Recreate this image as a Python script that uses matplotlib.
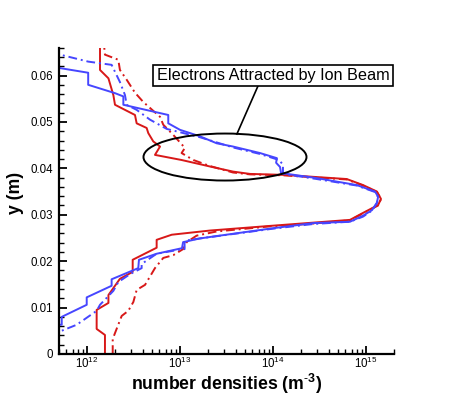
import matplotlib
matplotlib.use("Agg")
import matplotlib.pyplot as plt
import numpy as np
from matplotlib.patches import Ellipse
from matplotlib.ticker import FixedLocator, FuncFormatter, LogLocator, LogFormatterMathtext, NullFormatter

plt.rcParams["font.family"] = ["Liberation Sans", "DejaVu Sans"]
plt.rcParams["mathtext.fontset"] = "custom"
plt.rcParams["mathtext.rm"] = "Liberation Sans"
plt.rcParams["mathtext.bf"] = "Liberation Sans:bold"
plt.rcParams["mathtext.it"] = "Liberation Sans:italic"

# number densities (m^-3) vs y (m)
red_solid_n = [1.56e12, 1.56e12, 1.27e12, 1.27e12, 1.70e12, 1.70e12, 2.26e12, 3.10e12, 3.10e12,
               5.61e12, 5.61e12, 8.15e12, 2.10e13, 9.29e13, 2.69e14, 6.73e14, 9.29e14, 1.35e15,
               1.45e15, 1.31e15, 9.29e14, 6.20e14, 1.28e14, 5.66e13, 3.72e13, 2.10e13, 1.04e13,
               5.38e12, 6.10e12, 5.16e12, 4.56e12, 4.38e12, 3.42e12, 3.28e12, 2.56e12, 2.00e12,
               1.92e12, 1.70e12, 1.38e12, 1.38e12]
red_solid_y = [0.0, 0.0041, 0.0054, 0.0095, 0.0110, 0.0127, 0.0162, 0.0177, 0.0203,
               0.0229, 0.0246, 0.0257, 0.0266, 0.0276, 0.0283, 0.0289, 0.0304, 0.0321,
               0.0334, 0.0350, 0.0364, 0.0377, 0.0386, 0.0388, 0.0393, 0.0404, 0.0418,
               0.0429, 0.0447, 0.0458, 0.0476, 0.0487, 0.0497, 0.0515, 0.0526, 0.0537,
               0.0558, 0.0594, 0.0612, 0.0680]

red_dash_n = [1.89e12, 1.89e12, 2.00e12, 2.36e12, 2.78e12, 3.15e12, 3.42e12, 4.21e12, 5.38e12,
              6.61e12, 8.47e12, 1.08e13, 1.18e13, 1.51e13, 2.48e13, 9.29e13, 2.69e14, 6.73e14,
              9.29e14, 1.35e15, 1.45e15, 1.31e15, 9.29e14, 6.20e14, 1.28e14, 5.66e13, 3.72e13,
              2.10e13, 1.39e13, 1.04e13, 1.13e13, 8.47e12, 6.61e12, 6.10e12, 4.03e12, 3.28e12,
              2.67e12, 2.26e12, 2.17e12, 1.56e12, 1.50e12]
red_dash_y = [0.0, 0.0032, 0.0045, 0.0082, 0.0093, 0.0112, 0.0138, 0.0149, 0.0185,
              0.0207, 0.0213, 0.0226, 0.0241, 0.0255, 0.0264, 0.0275, 0.0281, 0.0288,
              0.0303, 0.0320, 0.0334, 0.0349, 0.0363, 0.0376, 0.0385, 0.0387, 0.0391,
              0.0405, 0.0418, 0.0433, 0.0444, 0.0472, 0.0494, 0.0511, 0.0543, 0.0563,
              0.0591, 0.0612, 0.0634, 0.0645, 0.0680]

blue_solid_n = [4.0e11, 5.35e11, 5.35e11, 9.93e11, 9.93e11, 1.84e12, 1.84e12, 3.56e12, 3.62e12,
                5.61e12, 1.05e13, 1.08e13, 1.64e13, 2.26e13, 1.00e14, 2.69e14, 6.73e14, 9.29e14,
                1.16e15, 1.31e15, 1.35e15, 1.25e15, 7.94e14, 2.95e14, 1.22e14, 1.19e14, 1.08e14,
                1.10e14, 7.24e13, 3.72e13, 2.48e13, 1.64e13, 1.00e13, 7.48e12, 7.48e12, 2.46e12,
                2.46e12, 2.00e12, 1.03e12, 1.03e12, 5.13e11, 4.0e11]
blue_solid_y = [0.0063, 0.0063, 0.0080, 0.0106, 0.0122, 0.0147, 0.0161, 0.0185, 0.0203,
                0.0216, 0.0228, 0.0241, 0.0249, 0.0253, 0.0271, 0.0282, 0.0285, 0.0298,
                0.0310, 0.0326, 0.0339, 0.0350, 0.0364, 0.0379, 0.0390, 0.0403, 0.0412,
                0.0422, 0.0433, 0.0447, 0.0454, 0.0469, 0.0483, 0.0497, 0.0515, 0.0537,
                0.0555, 0.0562, 0.0580, 0.0606, 0.0616, 0.0618]

blue_dash_n = [4.0e11, 5.04e11, 7.75e11, 1.27e12, 1.38e12, 1.92e12, 2.17e12, 2.90e12, 3.87e12,
               3.87e12, 5.61e12, 1.00e13, 1.12e13, 1.12e13, 1.64e13, 1.00e14, 2.69e14, 6.73e14,
               9.29e14, 1.16e15, 1.31e15, 1.35e15, 1.25e15, 7.94e14, 2.95e14, 1.28e14, 1.28e14,
               1.16e14, 7.24e13, 3.72e13, 1.64e13, 7.19e12, 4.75e12, 3.42e12, 2.67e12, 2.56e12,
               2.26e12, 2.00e12, 1.84e12, 1.03e12, 5.13e11, 4.0e11]
blue_dash_y = [0.0041, 0.0048, 0.0063, 0.0093, 0.0106, 0.0136, 0.0155, 0.0172, 0.0185,
               0.0194, 0.0216, 0.0225, 0.0226, 0.0244, 0.0249, 0.0270, 0.0280, 0.0285,
               0.0296, 0.0309, 0.0325, 0.0338, 0.0349, 0.0363, 0.0377, 0.0388, 0.0408,
               0.0418, 0.0431, 0.0445, 0.0467, 0.0485, 0.0505, 0.0526, 0.0537, 0.0558,
               0.0586, 0.0608, 0.0623, 0.0630, 0.0645, 0.0649]

y_ticks = [0.0, 0.01, 0.02, 0.03, 0.04, 0.05, 0.06]
note_text = "Electrons Attracted by Ion Beam"

RED = "#d81818"
BLUE = "#4646ff"
DASHDOT = (0, (4.5, 2.0, 1.0, 2.0))

fig = plt.figure(figsize=(4.49, 3.99), dpi=100)
ax = fig.add_axes([0.1314, 0.1128, 0.7461, 0.7677])

ax.plot(red_solid_n, red_solid_y, color=RED, lw=1.4)
ax.plot(red_dash_n, red_dash_y, color=RED, lw=1.4, ls=DASHDOT)
ax.plot(blue_solid_n, blue_solid_y, color=BLUE, lw=1.4)
ax.plot(blue_dash_n, blue_dash_y, color=BLUE, lw=1.4, ls=DASHDOT)

ax.set_xscale("log")
ax.set_xlim(5e11, 2e15)
ax.set_ylim(0, 0.066)

ax.xaxis.set_major_locator(LogLocator(base=10))
ax.xaxis.set_major_formatter(LogFormatterMathtext())
ax.xaxis.set_minor_locator(LogLocator(base=10, subs=np.arange(2, 10)))
ax.xaxis.set_minor_formatter(NullFormatter())
ax.yaxis.set_major_locator(FixedLocator(y_ticks))
ax.yaxis.set_minor_locator(FixedLocator(np.arange(0, 0.0661, 0.002)))
ax.yaxis.set_major_formatter(FuncFormatter(lambda v, _: "0" if v == 0 else f"{v:.2f}"))

for s in ("top", "right"):
    ax.spines[s].set_visible(False)
for s in ("left", "bottom"):
    ax.spines[s].set_linewidth(1.6)
ax.tick_params(which="both", direction="in", top=False, right=False, labelsize=8.3)
ax.tick_params(axis="x", pad=1.5)
ax.tick_params(axis="y", pad=4)
ax.tick_params(which="major", length=6, width=1.3)
ax.tick_params(which="minor", length=3.5, width=1.0)

ax.set_xlabel(r"number densities (m$^{\mathbf{\text{-}3}}$)", fontsize=12.7, fontweight="bold")
ax.set_ylabel("y (m)", fontsize=12.7, fontweight="bold")
ax.xaxis.set_label_coords(0.5, -0.06)
ax.yaxis.set_label_coords(-0.105, 0.525)

ell = Ellipse((0.4955, 0.643), 0.4866, 0.1534, transform=ax.transAxes,
              fill=False, edgecolor="black", lw=1.4, zorder=5)
ax.add_patch(ell)
ax.plot([0.531, 0.594], [0.718, 0.875], transform=ax.transAxes, color="black", lw=1.2, zorder=5)
ax.text(0.639, 0.909, note_text, transform=ax.transAxes, ha="center", va="center",
        fontsize=11.7, clip_on=False, zorder=6,
        bbox=dict(boxstyle="square,pad=0.2", facecolor="white", edgecolor="black", lw=1.2))

fig.savefig("out.png", dpi=100)
